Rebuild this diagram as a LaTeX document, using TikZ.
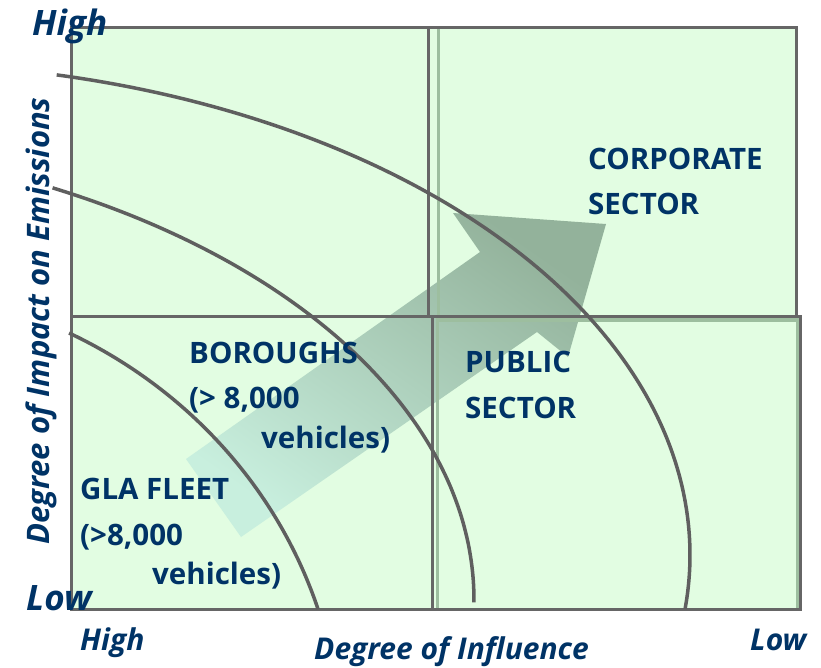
\documentclass[tikz,border=0pt]{standalone}
\usepackage{fontspec}
\setmainfont{Open Sans}
\definecolor{boxfill}{HTML}{E2FDE2}
\definecolor{boxgray}{HTML}{666666}
\definecolor{ghostgreen}{HTML}{9DBE9F}
\definecolor{arcgray}{HTML}{5F5F5F}
\definecolor{navy}{HTML}{003366}
\definecolor{arrowtail}{HTML}{C8EFDE}
\definecolor{arrowhead}{HTML}{93B29B}
\tikzset{
  quad/.style={draw=boxgray, line width=3pt},
  ghost/.style={draw=ghostgreen, line width=3pt},
  ring/.style={draw=arcgray, line width=3.5pt, smooth, samples=80},
  sector/.style={text=navy, anchor=base west, inner sep=0pt,
    font=\bfseries\fontsize{29.5}{30}\selectfont},
  axislab/.style={text=navy, anchor=base west, inner sep=0pt,
    font=\bfseries\itshape\fontsize{#1}{#1}\selectfont},
}
\begin{document}
\begin{tikzpicture}[x=1pt,y=-1pt]
\useasboundingbox (0,0) rectangle (821,667);
% quadrants
\fill[boxfill](71.5,27)rectangle(428,316);
\fill[boxfill](428,27)rectangle(796,316);
\fill[boxfill](71.5,316)rectangle(432.5,609);
\fill[boxfill](432.5,316)rectangle(800,609);
% arrow
\shade[left color=arrowhead, right color=arrowtail, shading angle=-35]
  (241,537)--(186,459)--(480,252)--(453,213)--(606,224)--(568,357)--(537,332)--cycle;
\draw[ghost](438,27)rectangle(796,320);
\draw[ghost](437,319)rectangle(797,609);
\draw[quad](71.5,27)rectangle(428,316);
\draw[quad](428,27)rectangle(796,316);
\draw[quad](71.5,316)rectangle(432.5,609);
\draw[quad](432.5,316)rectangle(800,609);
% rings
\draw[ring,domain=77.4:-6.3]plot({-120+810*cos(\x)},{555-492*sin(\x)});
\draw[ring,domain=62.9:-0.3]plot({-300+774*cos(\x)},{600-463*sin(\x)});
\draw[ring,domain=63.5:17.6]plot({-150+491*cos(\x)},{750-466*sin(\x)});
% sector labels
\node[sector](corp1) at (588,169){CORPORATE};
\node[sector](corp2) at (588,214){SECTOR};
\node[sector](pub1) at (465,372){PUBLIC};
\node[sector](pub2) at (465,418){SECTOR};
\node[sector](bor1) at (189,363){BOROUGHS};
\node[sector](bor2) at (189,408){(> 8,000};
\node[sector](bor3) at (261,448){vehicles)};
\node[sector](gla1) at (80,499){GLA FLEET};
\node[sector](gla2) at (80,545){(>8,000};
\node[sector](gla3) at (152,584){vehicles)};
% axes
\node[axislab=35](yhigh) at (32,35){High};
\node[axislab=35](ylow) at (26,610){Low};
\node[axislab=30](xhigh) at (80,650){High};
\node[axislab=30](xlow) at (750,650){Low};
\node[axislab=30](xlab) at (314,659){Degree of Influence};
\node[axislab=31,rotate=90](ylab) at (49,545){Degree of Impact on Emissions};
\end{tikzpicture}
\end{document}
